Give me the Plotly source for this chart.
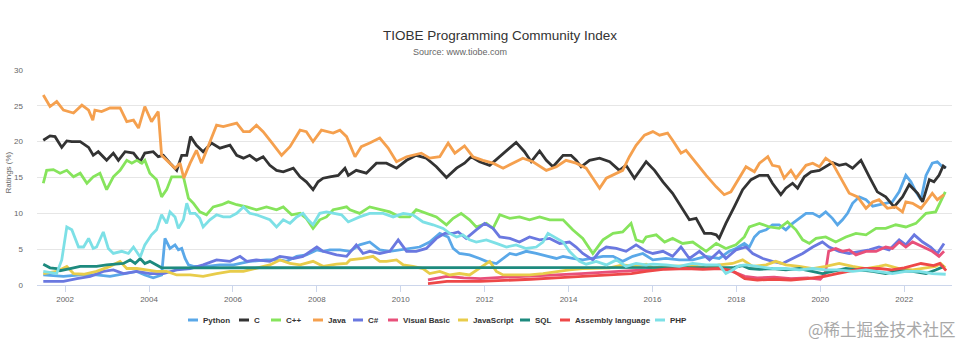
import plotly.graph_objects as go

# ---------------- data ----------------
series_names = ["Python", "C", "C++", "Java", "C#", "Visual Basic",
                "JavaScript", "SQL", "Assembly language", "PHP"]
series_colors = ["#5aa8e8", "#333333", "#86e45c", "#f5a04e", "#6a78e0",
                 "#e8507a", "#e8cc4a", "#1d8a7e", "#ee4848", "#7de0e6"]

python_x = [2001.48, 2001.96, 2002.36, 2002.75, 2003.07, 2003.39, 2003.71, 2003.90, 2004.10, 2004.30,
            2004.38, 2004.50, 2004.62, 2004.70, 2004.78, 2004.86, 2004.94, 2005.06, 2005.37, 2005.69,
            2006.01, 2006.40, 2006.80, 2007.12, 2007.28, 2007.52, 2007.75, 2008.00, 2008.15, 2008.31,
            2008.55, 2008.79, 2009.02, 2009.26, 2009.50, 2009.74, 2009.98, 2010.21, 2010.45, 2010.69,
            2010.93, 2011.13, 2011.25, 2011.40, 2011.64, 2011.88, 2012.04, 2012.28, 2012.44, 2012.60,
            2012.75, 2012.99, 2013.23, 2013.47, 2013.71, 2013.87, 2014.10, 2014.34, 2014.58, 2014.82,
            2015.06, 2015.29, 2015.53, 2015.77, 2016.01, 2016.32, 2016.64, 2016.96, 2017.28, 2017.59,
            2017.83, 2017.99, 2018.19, 2018.31, 2018.43, 2018.55, 2018.71, 2018.86, 2019.02, 2019.18,
            2019.34, 2019.50, 2019.66, 2019.82, 2019.98, 2020.13, 2020.29, 2020.41, 2020.53, 2020.65,
            2020.77, 2020.93, 2021.09, 2021.25, 2021.40, 2021.56, 2021.72, 2021.88, 2022.04, 2022.16,
            2022.28, 2022.40, 2022.52, 2022.67, 2022.79, 2022.91, 2023.00]
python_y = [1.4, 1.2, 1.4, 1.4, 1.2, 1.6, 1.9, 1.4, 1.0, 1.4,
            6.5, 5.1, 5.6, 4.9, 5.1, 3.7, 2.8, 2.6, 2.6, 2.8,
            2.8, 3.3, 3.5, 3.5, 3.3, 4.0, 4.2, 4.9, 4.7, 4.9,
            4.9, 4.7, 5.6, 6.0, 4.9, 4.7, 4.9, 5.1, 5.3, 6.0,
            7.2, 6.7, 5.1, 4.4, 4.2, 3.7, 3.3, 3.0, 3.7, 4.4,
            4.2, 4.7, 4.4, 4.0, 3.7, 4.0, 3.7, 3.5, 3.7, 4.0,
            4.0, 3.3, 4.0, 4.4, 3.5, 3.7, 3.5, 3.5, 4.0, 3.7,
            4.7, 5.1, 5.8, 5.3, 6.7, 7.4, 7.7, 8.4, 8.4, 7.7,
            8.6, 9.3, 10.0, 10.0, 9.5, 10.2, 9.3, 8.4, 9.1, 10.0,
            11.4, 12.3, 11.9, 11.0, 11.2, 11.4, 11.6, 13.0, 15.3, 14.4,
            13.0, 11.9, 15.3, 17.0, 17.2, 16.5, 16.4]

c_x = [2001.48, 2001.64, 2001.76, 2001.92, 2002.04, 2002.16, 2002.36, 2002.56, 2002.67, 2002.79,
       2002.99, 2003.15, 2003.27, 2003.43, 2003.63, 2003.79, 2003.90, 2004.10, 2004.22, 2004.34,
       2004.50, 2004.66, 2004.78, 2004.90, 2004.99, 2005.13, 2005.29, 2005.49, 2005.69, 2005.93,
       2006.09, 2006.25, 2006.40, 2006.56, 2006.72, 2006.88, 2007.04, 2007.20, 2007.44, 2007.60,
       2007.75, 2007.91, 2008.03, 2008.15, 2008.31, 2008.51, 2008.67, 2008.75, 2008.94, 2009.18,
       2009.42, 2009.66, 2009.90, 2010.14, 2010.37, 2010.61, 2010.85, 2011.09, 2011.33, 2011.52,
       2011.68, 2011.88, 2012.12, 2012.28, 2012.52, 2012.75, 2012.95, 2013.11, 2013.31, 2013.47,
       2013.63, 2013.87, 2014.06, 2014.18, 2014.30, 2014.50, 2014.74, 2014.98, 2015.21, 2015.37,
       2015.57, 2015.77, 2015.85, 2016.05, 2016.25, 2016.48, 2016.68, 2016.88, 2017.04, 2017.24,
       2017.40, 2017.52, 2017.59, 2017.75, 2017.95, 2018.15, 2018.35, 2018.55, 2018.75, 2018.86,
       2019.06, 2019.18, 2019.34, 2019.46, 2019.62, 2019.78, 2019.98, 2020.13, 2020.29, 2020.45,
       2020.61, 2020.77, 2020.97, 2021.17, 2021.36, 2021.56, 2021.76, 2021.96, 2022.12, 2022.32,
       2022.44, 2022.60, 2022.71, 2022.83, 2022.93, 2022.99]
c_y = [20.2, 20.8, 20.7, 19.2, 20.1, 20.0, 20.0, 19.2, 18.1, 18.6,
       17.4, 18.4, 17.4, 18.6, 18.4, 17.2, 18.4, 18.6, 17.9, 18.1,
       17.0, 16.0, 18.1, 18.1, 20.7, 19.5, 18.6, 19.8, 19.1, 19.5,
       18.1, 17.7, 18.1, 17.4, 17.9, 16.7, 16.0, 15.8, 16.3, 15.1,
       14.4, 13.3, 14.4, 14.9, 15.1, 15.3, 16.3, 15.3, 16.0, 15.6,
       17.0, 17.0, 16.3, 17.4, 18.1, 17.7, 16.5, 15.0, 16.3, 17.0,
       17.9, 17.2, 16.7, 17.5, 18.8, 19.9, 18.6, 17.2, 18.7, 17.4,
       16.5, 18.1, 18.1, 17.4, 16.5, 17.4, 17.7, 17.2, 16.0, 16.7,
       14.9, 16.5, 17.2, 16.0, 14.4, 12.8, 10.9, 9.1, 9.3, 7.2,
       7.2, 7.0, 6.5, 8.6, 10.9, 13.3, 14.7, 15.3, 15.3, 14.2,
       12.6, 13.5, 14.2, 13.5, 15.1, 15.8, 16.0, 16.5, 17.1, 16.7,
       16.9, 16.3, 17.4, 15.1, 13.0, 12.3, 10.9, 12.3, 14.0, 12.8,
       11.6, 14.7, 14.4, 15.3, 16.6, 16.3]

cpp_x = [2001.48, 2001.56, 2001.72, 2001.88, 2002.04, 2002.20, 2002.36, 2002.52, 2002.67, 2002.83,
         2002.99, 2003.15, 2003.31, 2003.47, 2003.59, 2003.71, 2003.83, 2003.90, 2004.02, 2004.18,
         2004.30, 2004.42, 2004.54, 2004.70, 2004.82, 2004.94, 2005.06, 2005.21, 2005.37, 2005.53,
         2005.73, 2005.89, 2006.09, 2006.33, 2006.56, 2006.80, 2007.04, 2007.20, 2007.40, 2007.60,
         2007.75, 2007.91, 2008.07, 2008.23, 2008.39, 2008.55, 2008.71, 2008.79, 2009.02, 2009.26,
         2009.50, 2009.74, 2009.98, 2010.21, 2010.37, 2010.61, 2010.85, 2011.09, 2011.25, 2011.44,
         2011.64, 2011.80, 2012.04, 2012.20, 2012.36, 2012.60, 2012.83, 2013.07, 2013.31, 2013.55,
         2013.87, 2014.10, 2014.34, 2014.58, 2014.82, 2015.06, 2015.29, 2015.49, 2015.61, 2015.77,
         2015.85, 2016.09, 2016.29, 2016.48, 2016.72, 2016.96, 2017.12, 2017.28, 2017.52, 2017.75,
         2017.99, 2018.19, 2018.31, 2018.55, 2018.79, 2019.02, 2019.22, 2019.42, 2019.58, 2019.74,
         2019.90, 2020.13, 2020.37, 2020.61, 2020.85, 2021.09, 2021.33, 2021.56, 2021.80, 2022.04,
         2022.28, 2022.52, 2022.75, 2022.87, 2022.98]
cpp_y = [14.2, 16.0, 16.1, 15.6, 16.0, 15.1, 15.6, 14.2, 15.1, 15.6,
         13.3, 15.1, 16.0, 17.4, 17.0, 17.4, 17.0, 17.4, 15.6, 14.7,
         12.3, 13.3, 15.1, 15.1, 15.1, 12.1, 11.4, 10.2, 9.8, 10.9,
         11.2, 11.6, 11.2, 10.9, 10.5, 10.9, 10.5, 10.9, 9.8, 10.0,
         9.3, 7.9, 9.1, 9.5, 10.5, 10.7, 10.9, 10.5, 10.0, 10.9,
         10.5, 10.2, 9.5, 9.5, 10.5, 10.0, 9.5, 8.4, 9.3, 10.0,
         9.1, 8.1, 8.6, 7.9, 9.8, 9.3, 9.5, 9.1, 9.5, 9.1,
         9.1, 7.7, 6.5, 4.4, 6.3, 7.2, 7.4, 8.6, 6.3, 6.0,
         6.7, 7.0, 6.0, 6.5, 5.8, 6.0, 5.3, 4.7, 5.8, 5.1,
         5.6, 6.7, 8.1, 8.6, 8.1, 7.9, 8.8, 7.7, 6.3, 5.8,
         6.5, 6.7, 6.0, 6.7, 7.2, 7.0, 7.9, 7.9, 8.4, 8.1,
         8.6, 10.0, 10.2, 11.6, 13.0]

java_x = [2001.48, 2001.64, 2001.80, 2001.96, 2002.20, 2002.40, 2002.56, 2002.66, 2002.71, 2002.87,
          2003.07, 2003.31, 2003.47, 2003.63, 2003.75, 2003.90, 2004.06, 2004.22, 2004.30, 2004.42,
          2004.62, 2004.74, 2004.83, 2004.98, 2005.13, 2005.25, 2005.41, 2005.61, 2005.77, 2006.09,
          2006.25, 2006.40, 2006.56, 2006.72, 2006.88, 2007.16, 2007.36, 2007.60, 2007.75, 2007.91,
          2008.11, 2008.39, 2008.55, 2008.71, 2008.91, 2009.06, 2009.26, 2009.50, 2009.70, 2009.90,
          2010.14, 2010.29, 2010.49, 2010.69, 2010.93, 2011.13, 2011.29, 2011.52, 2011.72, 2011.96,
          2012.20, 2012.44, 2012.68, 2012.91, 2013.15, 2013.47, 2013.71, 2013.94, 2014.18, 2014.42,
          2014.58, 2014.74, 2014.90, 2015.14, 2015.29, 2015.45, 2015.61, 2015.81, 2016.01, 2016.17,
          2016.36, 2016.48, 2016.68, 2016.80, 2017.04, 2017.28, 2017.52, 2017.71, 2017.87, 2018.07,
          2018.23, 2018.43, 2018.55, 2018.75, 2018.86, 2019.02, 2019.14, 2019.30, 2019.42, 2019.66,
          2019.82, 2019.98, 2020.13, 2020.29, 2020.45, 2020.69, 2020.89, 2021.09, 2021.25, 2021.40,
          2021.60, 2021.80, 2021.96, 2022.04, 2022.20, 2022.40, 2022.52, 2022.67, 2022.79, 2022.95]
java_y = [26.5, 24.9, 25.6, 24.4, 24.0, 25.1, 24.4, 23.0, 24.4, 24.2,
          24.7, 24.7, 22.8, 23.0, 21.9, 24.9, 22.8, 24.2, 18.1, 17.4,
          16.3, 17.0, 14.9, 17.0, 18.8, 17.0, 19.3, 22.3, 22.1, 22.6,
          21.4, 21.4, 22.3, 21.4, 20.2, 18.1, 19.3, 21.6, 21.4, 20.0,
          21.6, 21.2, 21.6, 20.7, 17.9, 19.3, 19.8, 20.5, 19.1, 17.2,
          17.9, 18.1, 18.4, 17.7, 17.9, 19.8, 18.4, 19.4, 17.9, 17.4,
          17.0, 16.3, 17.0, 17.7, 17.2, 16.0, 16.5, 17.4, 17.0, 16.3,
          14.9, 13.5, 14.9, 15.6, 16.0, 17.9, 19.5, 20.9, 21.4, 20.9,
          21.2, 20.2, 18.4, 18.8, 17.0, 15.3, 13.7, 12.6, 13.0, 14.9,
          16.5, 15.8, 17.0, 17.9, 16.7, 16.5, 14.9, 16.0, 14.9, 16.7,
          17.0, 16.5, 17.7, 17.0, 15.3, 12.8, 12.3, 10.7, 11.6, 11.9,
          10.7, 10.9, 10.2, 11.6, 11.4, 10.7, 11.6, 12.8, 11.9, 12.6]

csharp_x = [2001.48, 2001.96, 2002.28, 2002.60, 2002.91, 2003.15, 2003.39, 2003.71, 2004.02, 2004.34,
            2004.66, 2004.98, 2005.29, 2005.61, 2005.93, 2006.17, 2006.33, 2006.56, 2006.88, 2007.12,
            2007.44, 2007.67, 2008.00, 2008.15, 2008.47, 2008.71, 2008.94, 2009.10, 2009.26, 2009.50,
            2009.74, 2009.94, 2010.14, 2010.37, 2010.61, 2010.85, 2011.05, 2011.25, 2011.37, 2011.56,
            2011.80, 2012.00, 2012.20, 2012.36, 2012.60, 2012.83, 2013.07, 2013.31, 2013.55, 2013.79,
            2014.02, 2014.18, 2014.34, 2014.58, 2014.74, 2014.90, 2015.14, 2015.37, 2015.61, 2015.85,
            2016.01, 2016.25, 2016.48, 2016.68, 2016.88, 2017.12, 2017.36, 2017.59, 2017.75, 2017.99,
            2018.23, 2018.39, 2018.63, 2018.86, 2019.10, 2019.34, 2019.58, 2019.82, 2020.05, 2020.21,
            2020.45, 2020.69, 2020.93, 2021.17, 2021.40, 2021.64, 2021.88, 2022.04, 2022.24, 2022.44,
            2022.63, 2022.79, 2022.95]
csharp_y = [0.5, 0.5, 0.9, 1.2, 1.9, 2.1, 1.6, 1.9, 1.6, 1.6,
            2.1, 2.3, 2.8, 3.5, 3.3, 4.0, 3.3, 3.5, 3.3, 4.0,
            3.7, 4.0, 5.3, 4.7, 4.2, 4.0, 5.6, 4.4, 4.7, 4.4,
            4.7, 6.3, 4.7, 4.7, 5.1, 6.5, 7.2, 7.2, 7.4, 6.5,
            7.7, 8.6, 7.9, 6.7, 6.5, 6.0, 6.7, 6.3, 6.5, 5.8,
            6.0, 5.3, 4.4, 3.5, 4.7, 5.3, 5.1, 4.7, 5.6, 4.7,
            4.4, 4.7, 4.0, 5.3, 3.7, 4.7, 3.5, 4.7, 3.7, 4.9,
            5.3, 4.4, 3.7, 3.3, 3.0, 3.7, 4.4, 5.3, 6.0, 5.3,
            4.7, 4.4, 4.7, 4.9, 5.3, 4.9, 6.3, 5.6, 7.0, 6.0,
            5.3, 4.4, 5.8]

vb_x = [2010.65, 2011.10, 2011.50, 2011.90, 2012.50, 2013.10, 2013.70, 2014.30, 2014.70, 2015.10,
        2015.50, 2015.85, 2016.30, 2016.80, 2017.20, 2017.60, 2017.90, 2018.20, 2018.50, 2018.90,
        2019.30, 2019.70, 2020.00, 2020.12, 2020.20, 2020.37, 2020.53, 2020.69, 2020.85, 2021.09,
        2021.33, 2021.56, 2021.72, 2021.88, 2022.04, 2022.20, 2022.44, 2022.67, 2022.83, 2022.95]
vb_y = [0.7, 1.2, 1.0, 0.9, 1.1, 1.2, 1.4, 1.6, 1.7, 1.9,
        2.0, 2.1, 2.3, 2.4, 2.3, 2.4, 1.9, 1.2, 1.0, 1.1,
        0.9, 1.0, 0.8, 1.6, 4.7, 5.1, 4.7, 4.9, 4.2, 4.7,
        4.7, 5.3, 5.1, 6.0, 5.3, 6.0, 5.3, 4.7, 4.0, 4.7]

js_x = [2001.48, 2001.80, 2002.04, 2002.20, 2002.44, 2002.75, 2003.07, 2003.31, 2003.47, 2003.71,
        2003.94, 2004.18, 2004.42, 2004.66, 2004.98, 2005.29, 2005.61, 2005.93, 2006.25, 2006.56,
        2006.88, 2007.12, 2007.36, 2007.60, 2007.91, 2008.15, 2008.47, 2008.71, 2008.79, 2009.10,
        2009.34, 2009.50, 2009.66, 2009.90, 2010.06, 2010.29, 2010.53, 2010.69, 2010.93, 2011.17,
        2011.40, 2011.64, 2011.88, 2012.12, 2012.28, 2012.44, 2012.75, 2013.07, 2013.39, 2013.71,
        2014.02, 2014.34, 2014.66, 2014.98, 2015.29, 2015.61, 2015.85, 2016.01, 2016.32, 2016.64,
        2016.96, 2017.28, 2017.59, 2017.91, 2018.15, 2018.39, 2018.71, 2018.94, 2019.18, 2019.50,
        2019.82, 2020.13, 2020.45, 2020.77, 2021.09, 2021.40, 2021.56, 2021.88, 2022.20, 2022.52,
        2022.75, 2022.87, 2022.98]
js_y = [1.6, 1.9, 2.6, 1.6, 1.5, 1.9, 2.6, 3.3, 2.3, 2.3,
        2.1, 1.9, 1.9, 1.4, 1.4, 1.2, 1.6, 1.9, 1.9, 2.3,
        2.8, 3.5, 3.0, 2.8, 3.3, 2.6, 2.9, 3.0, 3.5, 3.7,
        4.0, 3.3, 3.3, 3.5, 2.8, 2.6, 2.3, 1.6, 1.9, 1.4,
        1.6, 1.4, 2.3, 3.3, 1.9, 1.4, 1.4, 1.4, 1.6, 1.9,
        2.1, 2.3, 2.3, 2.4, 2.8, 2.6, 2.9, 2.4, 2.6, 2.6,
        2.7, 2.4, 2.8, 3.0, 3.5, 2.6, 2.8, 3.3, 2.8, 2.6,
        2.3, 2.6, 3.0, 2.6, 2.3, 2.6, 2.8, 2.3, 2.1, 2.4,
        2.6, 3.0, 2.4]

sql_x = [2001.48, 2001.64, 2001.80, 2001.88, 2002.12, 2002.36, 2002.60, 2002.75, 2002.99, 2003.23,
         2003.39, 2003.55, 2003.67, 2003.79, 2003.90, 2004.02, 2004.18, 2004.30, 2017.95, 2018.15,
         2018.31, 2018.55, 2018.86, 2019.18, 2019.50, 2019.82, 2020.05, 2020.29, 2020.61, 2020.93,
         2021.25, 2021.56, 2021.88, 2022.20, 2022.52, 2022.75, 2022.95]
sql_y = [2.9, 2.4, 2.3, 2.0, 2.3, 2.6, 2.6, 2.6, 2.8, 2.9,
         3.0, 3.5, 3.0, 3.7, 3.0, 3.3, 2.8, 2.4, 2.45, 2.7,
         2.3, 2.2, 2.3, 2.1, 2.3, 1.9, 1.6, 1.9, 2.3, 2.1,
         1.9, 1.6, 2.0, 1.9, 1.6, 2.1, 2.6]

asm_x = [2010.65, 2011.10, 2011.90, 2012.50, 2013.10, 2013.70, 2014.30, 2014.70, 2015.10, 2015.50,
         2015.85, 2016.30, 2016.80, 2017.20, 2017.60, 2017.90, 2018.20, 2018.50, 2018.90, 2019.30,
         2019.70, 2020.10, 2020.40, 2020.70, 2021.00, 2021.40, 2021.70, 2022.00, 2022.40, 2022.70,
         2022.85, 2023.00]
asm_y = [0.2, 0.5, 0.5, 0.6, 0.8, 1.0, 1.2, 1.3, 1.4, 1.6,
         1.9, 2.2, 2.3, 2.2, 2.3, 2.0, 0.9, 0.7, 0.8, 0.7,
         0.9, 1.2, 1.6, 2.0, 2.3, 2.3, 2.1, 2.4, 3.0, 2.7,
         3.0, 2.0]

php_x = [2001.48, 2001.80, 2001.92, 2002.04, 2002.16, 2002.32, 2002.44, 2002.56, 2002.67, 2002.75,
         2002.91, 2003.03, 2003.15, 2003.35, 2003.51, 2003.63, 2003.79, 2003.90, 2004.06, 2004.18,
         2004.30, 2004.42, 2004.50, 2004.62, 2004.70, 2004.82, 2004.90, 2004.98, 2005.10, 2005.21,
         2005.29, 2005.45, 2005.61, 2005.77, 2005.93, 2006.09, 2006.25, 2006.40, 2006.56, 2006.72,
         2006.88, 2007.04, 2007.20, 2007.36, 2007.52, 2007.67, 2007.79, 2007.91, 2008.07, 2008.23,
         2008.43, 2008.59, 2008.75, 2009.02, 2009.26, 2009.58, 2009.82, 2010.06, 2010.29, 2010.53,
         2010.77, 2011.01, 2011.17, 2011.33, 2011.48, 2011.64, 2011.80, 2012.04, 2012.28, 2012.52,
         2012.75, 2012.99, 2013.23, 2013.39, 2013.51, 2013.67, 2013.87, 2014.02, 2014.26, 2014.42,
         2014.66, 2014.90, 2015.14, 2015.37, 2015.61, 2015.85, 2016.01, 2016.32, 2016.64, 2016.96,
         2017.28, 2017.59, 2017.75, 2017.91, 2018.07, 2018.23, 2018.55, 2018.86, 2019.18, 2019.50,
         2019.82, 2020.13, 2020.45, 2020.77, 2021.09, 2021.40, 2021.72, 2022.04, 2022.36, 2022.67,
         2022.99]
php_y = [1.9, 1.6, 3.5, 8.1, 7.7, 5.3, 5.3, 6.5, 5.1, 5.3,
         7.4, 5.1, 4.4, 4.7, 4.4, 5.3, 3.9, 5.6, 7.0, 7.7,
         9.8, 8.6, 10.2, 9.5, 7.9, 9.1, 11.4, 10.0, 10.0, 9.3,
         8.1, 9.1, 9.8, 9.5, 9.5, 10.0, 10.9, 10.0, 9.8, 9.5,
         9.1, 8.1, 9.1, 8.6, 9.5, 10.0, 9.1, 8.4, 10.0, 10.2,
         10.0, 9.8, 8.8, 9.5, 10.0, 10.0, 9.5, 10.0, 9.8, 8.8,
         8.4, 7.9, 7.2, 6.7, 7.0, 6.3, 6.0, 6.3, 5.8, 5.3,
         5.6, 5.1, 5.3, 6.0, 7.2, 6.7, 6.0, 4.7, 3.3, 2.9,
         3.3, 2.8, 3.5, 2.6, 3.0, 2.8, 2.9, 2.8, 2.6, 3.0,
         2.8, 2.8, 1.6, 2.1, 2.7, 2.8, 2.6, 2.3, 2.3, 2.1,
         2.3, 2.1, 2.1, 1.9, 2.1, 1.9, 1.6, 1.9, 1.9, 1.6,
         1.5]

series_x = [python_x, c_x, cpp_x, java_x, csharp_x, vb_x, js_x, sql_x, asm_x, php_x]
series_y = [python_y, c_y, cpp_y, java_y, csharp_y, vb_y, js_y, sql_y, asm_y, php_y]

x_tick_values = [2002, 2004, 2006, 2008, 2010, 2012, 2014, 2016, 2018, 2020, 2022]
x_tick_labels = [str(v) for v in x_tick_values]
y_tick_values = [0, 5, 10, 15, 20, 25, 30]

# ---------------- layout constants (pixels) ----------------
W, H = 972, 355
PL, PR, PT, PB = 37, 20, 70, 70
PW, PH = W - PL - PR, H - PT - PB


def px_x(px):
    return (px - PL) / PW


def px_y(py):
    return (H - PB - py) / PH


fig = go.Figure()
for name, xs, ys, col in zip(series_names, series_x, series_y, series_colors):
    fig.add_trace(go.Scatter(x=xs, y=ys, mode="lines", name=name,
                             line=dict(color=col, width=2.8),
                             showlegend=False, hoverinfo="x+y+name"))

# custom compact legend (Highcharts style)
legend_symbol_px = [188, 239, 271, 313, 353, 388, 458, 520, 560, 655]
legend_y_px = 320
shapes = []
annotations = []
for name, col, sx in zip(series_names, series_colors, legend_symbol_px):
    shapes.append(dict(type="line", xref="paper", yref="paper",
                       x0=px_x(sx), x1=px_x(sx + 10),
                       y0=px_y(legend_y_px), y1=px_y(legend_y_px),
                       line=dict(color=col, width=3)))
    annotations.append(dict(text="<b>%s</b>" % name, xref="paper", yref="paper",
                            x=px_x(sx + 13), y=px_y(legend_y_px),
                            xanchor="left", yanchor="middle", showarrow=False,
                            font=dict(family="Liberation Sans, Arial",
                                      size=8, color="#333333")))

# subtitle
annotations.append(dict(text="Source: www.tiobe.com", xref="paper", yref="paper",
                        x=px_x(460), y=px_y(52), xanchor="center", yanchor="middle",
                        showarrow=False,
                        font=dict(family="Liberation Sans, Arial", size=9, color="#666666")))
# y axis title
annotations.append(dict(text="Ratings (%)", xref="paper", yref="paper",
                        x=px_x(7.5), y=px_y(173), xanchor="center", yanchor="middle",
                        textangle=-90, showarrow=False,
                        font=dict(family="Liberation Sans, Arial", size=8, color="#666666")))
# watermark
annotations.append(dict(text="@稀土掘金技术社区", xref="paper", yref="paper",
                        x=px_x(958), y=px_y(329), xanchor="right", yanchor="middle",
                        showarrow=False,
                        font=dict(family="Noto Sans CJK SC", size=16.5, color="#a8a8a8")))

fig.update_layout(
    width=W, height=H,
    margin=dict(l=PL, r=PR, t=PT, b=PB, autoexpand=False),
    paper_bgcolor="white", plot_bgcolor="white",
    title=dict(text="TIOBE Programming Community Index", x=500 / W, xref="container",
               xanchor="center", y=1 - 35 / H, yref="container", yanchor="middle",
               font=dict(family="Liberation Sans, Arial", size=13.5, color="#333333")),
    shapes=shapes, annotations=annotations,
    showlegend=False,
    xaxis=dict(range=[2001.33, 2023.14], tickvals=x_tick_values, ticktext=x_tick_labels,
               showgrid=False, zeroline=False, showline=True, linecolor="#ccd6eb", linewidth=1,
               ticks="outside", ticklen=6, tickcolor="#ccd6eb", tickwidth=1,
               tickfont=dict(family="Liberation Sans, Arial", size=8, color="#666666")),
    yaxis=dict(range=[0, 30], tickvals=y_tick_values, showgrid=True, gridcolor="#e6e6e6",
               gridwidth=1, zeroline=False, showline=False, ticks="",
               ticklabelstandoff=13,
               tickfont=dict(family="Liberation Sans, Arial", size=8, color="#666666")),
)

fig.write_html("out.html", config={"displayModeBar": False},
               post_script="document.body.style.margin='0px';document.body.style.padding='0px';")
